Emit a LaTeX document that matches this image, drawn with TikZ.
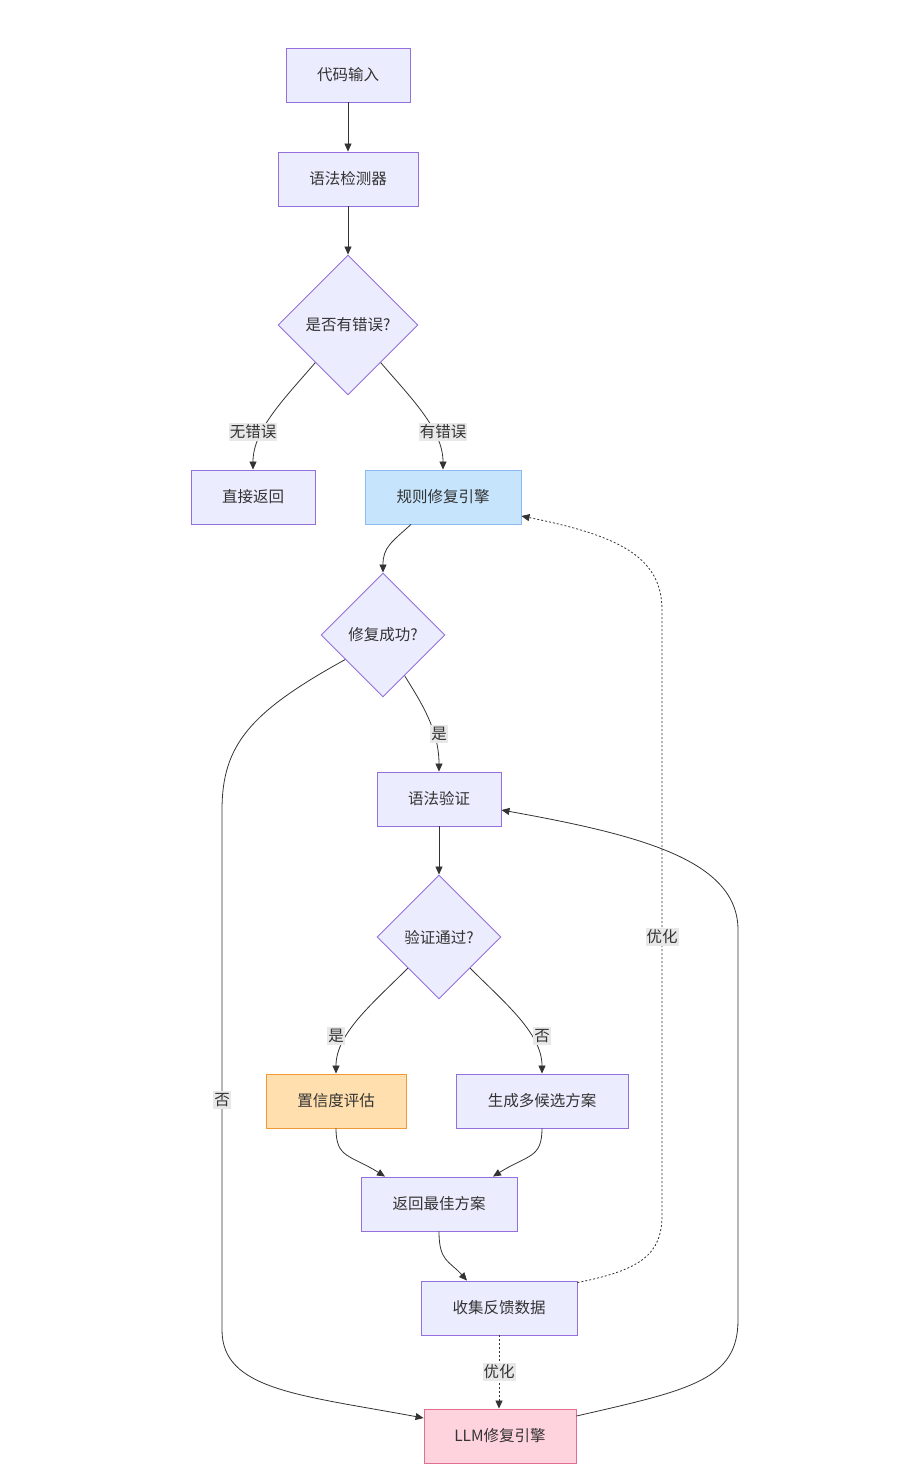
\documentclass[tikz,border=0pt]{standalone}
\usepackage{fontspec}
\setmainfont{Noto Sans CJK SC}
\usetikzlibrary{shapes.geometric,arrows.meta}
\definecolor{nfill}{HTML}{ECECFF}
\definecolor{nline}{HTML}{9370DB}
\definecolor{bfill}{HTML}{C6E4FC}
\definecolor{bline}{HTML}{8DBAF0}
\definecolor{ofill}{HTML}{FFDFAE}
\definecolor{oline}{HTML}{F09A35}
\definecolor{pfill}{HTML}{FFD3DE}
\definecolor{pline}{HTML}{E0708E}
\definecolor{ink}{HTML}{333333}
\definecolor{lblbg}{HTML}{E8E8E8}
\tikzset{
  base/.style={font=\fontsize{15.5}{18}\selectfont, text=ink, inner sep=0pt, line width=0.9pt},
  box/.style={base, rectangle, draw=nline, fill=nfill, minimum height=54pt},
  dec/.style={base, diamond, draw=nline, fill=nfill, aspect=1},
  conn/.style={draw=ink, line width=0.8pt, -{Triangle[length=8pt,width=7pt]}},
  dotconn/.style={conn, dash pattern=on 2pt off 2pt},
  lbl/.style={font=\fontsize{15.5}{18}\selectfont, text=ink, fill=lblbg, inner xsep=1pt, inner ysep=2pt}
}
\begin{document}
\begin{tikzpicture}[x=1pt,y=-1pt]
\useasboundingbox (0,0) rectangle (918,1484);
\node[box, minimum width=124pt] (in) at (348,75) {代码输入};
\node[box, minimum width=140pt] (chk) at (348,179) {语法检测器};
\node[dec, minimum width=140pt, minimum height=140pt] (d1) at (348,325) {是否有错误?};
\node[box, minimum width=124pt] (ret) at (253,497) {直接返回};
\node[box, minimum width=156pt, draw=bline, fill=bfill] (rule) at (443,497) {规则修复引擎};
\node[dec, minimum width=124pt, minimum height=124pt] (d2) at (383,635) {修复成功?};
\node[box, minimum width=124pt] (ver) at (439,799) {语法验证};
\node[dec, minimum width=124pt, minimum height=124pt] (d3) at (439,937) {验证通过?};
\node[box, minimum width=140pt, draw=oline, fill=ofill] (conf) at (336,1101) {置信度评估};
\node[box, minimum width=172pt] (gen) at (542,1101) {生成多候选方案};
\node[box, minimum width=156pt] (best) at (439,1204) {返回最佳方案};
\node[box, minimum width=156pt] (fb) at (499,1308) {收集反馈数据};
\node[box, minimum width=152pt, draw=pline, fill=pfill] (llm) at (500,1436) {LLM修复引擎};

\draw[conn] (in.south) -- (chk.north);
\draw[conn] (chk.south) -- (d1.north);
\draw[conn] (d1.-131) .. controls +(-30,35) and +(0,-40) .. (ret.north);
\draw[conn] (d1.-49) .. controls +(30,35) and +(0,-40) .. (rule.north);
\draw[conn] ([xshift=-32pt]rule.south) .. controls +(-20,18) and +(0,-25) .. (d2.north);
\draw[conn] (d2.-62) .. controls +(16,26) and +(0,-42) .. (ver.north);
\draw[conn] (d2.-147) .. controls (250,712) and (222,745) .. (222,810) -- (222,1330)
   .. controls (222,1390) and (300,1395) .. ([yshift=18pt]llm.west);
\draw[conn] (ver.south) -- (d3.north);
\draw[conn] (d3.south west) .. controls +(-35,35) and +(0,-40) .. (conf.north);
\draw[conn] (d3.south east) .. controls +(35,35) and +(0,-40) .. (gen.north);
\draw[conn] (conf.south) .. controls +(0,30) and +(-35,-22) .. ([xshift=-54pt]best.north);
\draw[conn] (gen.south) .. controls +(0,30) and +(35,-22) .. ([xshift=54pt]best.north);
\draw[conn] (best.south) .. controls +(0,30) and +(-18,-20) .. ([xshift=-32pt]fb.north);
\draw[dotconn] (fb.south) -- (fb.south |- llm.north);
\draw[dotconn] ([yshift=-2pt]fb.north east) .. controls (640,1270) and (662,1255) .. (662,1215) -- (662,610)
   .. controls (662,555) and (615,535) .. ([yshift=-19pt]rule.east);
\draw[conn] ([yshift=20pt]llm.east) .. controls (690,1390) and (738,1380) .. (738,1320) -- (738,930)
   .. controls (738,860) and (640,835) .. ([yshift=-11pt]ver.east);

\node[lbl] (l1) at (253,432) {无错误};
\node[lbl] (l2) at (443,432) {有错误};
\node[lbl] (l3) at (439,734) {是};
\node[lbl] (l4) at (222,1100) {否};
\node[lbl] (l5) at (336,1036) {是};
\node[lbl] (l6) at (542,1036) {否};
\node[lbl] (l7) at (499,1372) {优化};
\node[lbl] (l8) at (662,937) {优化};
\end{tikzpicture}
\end{document}
